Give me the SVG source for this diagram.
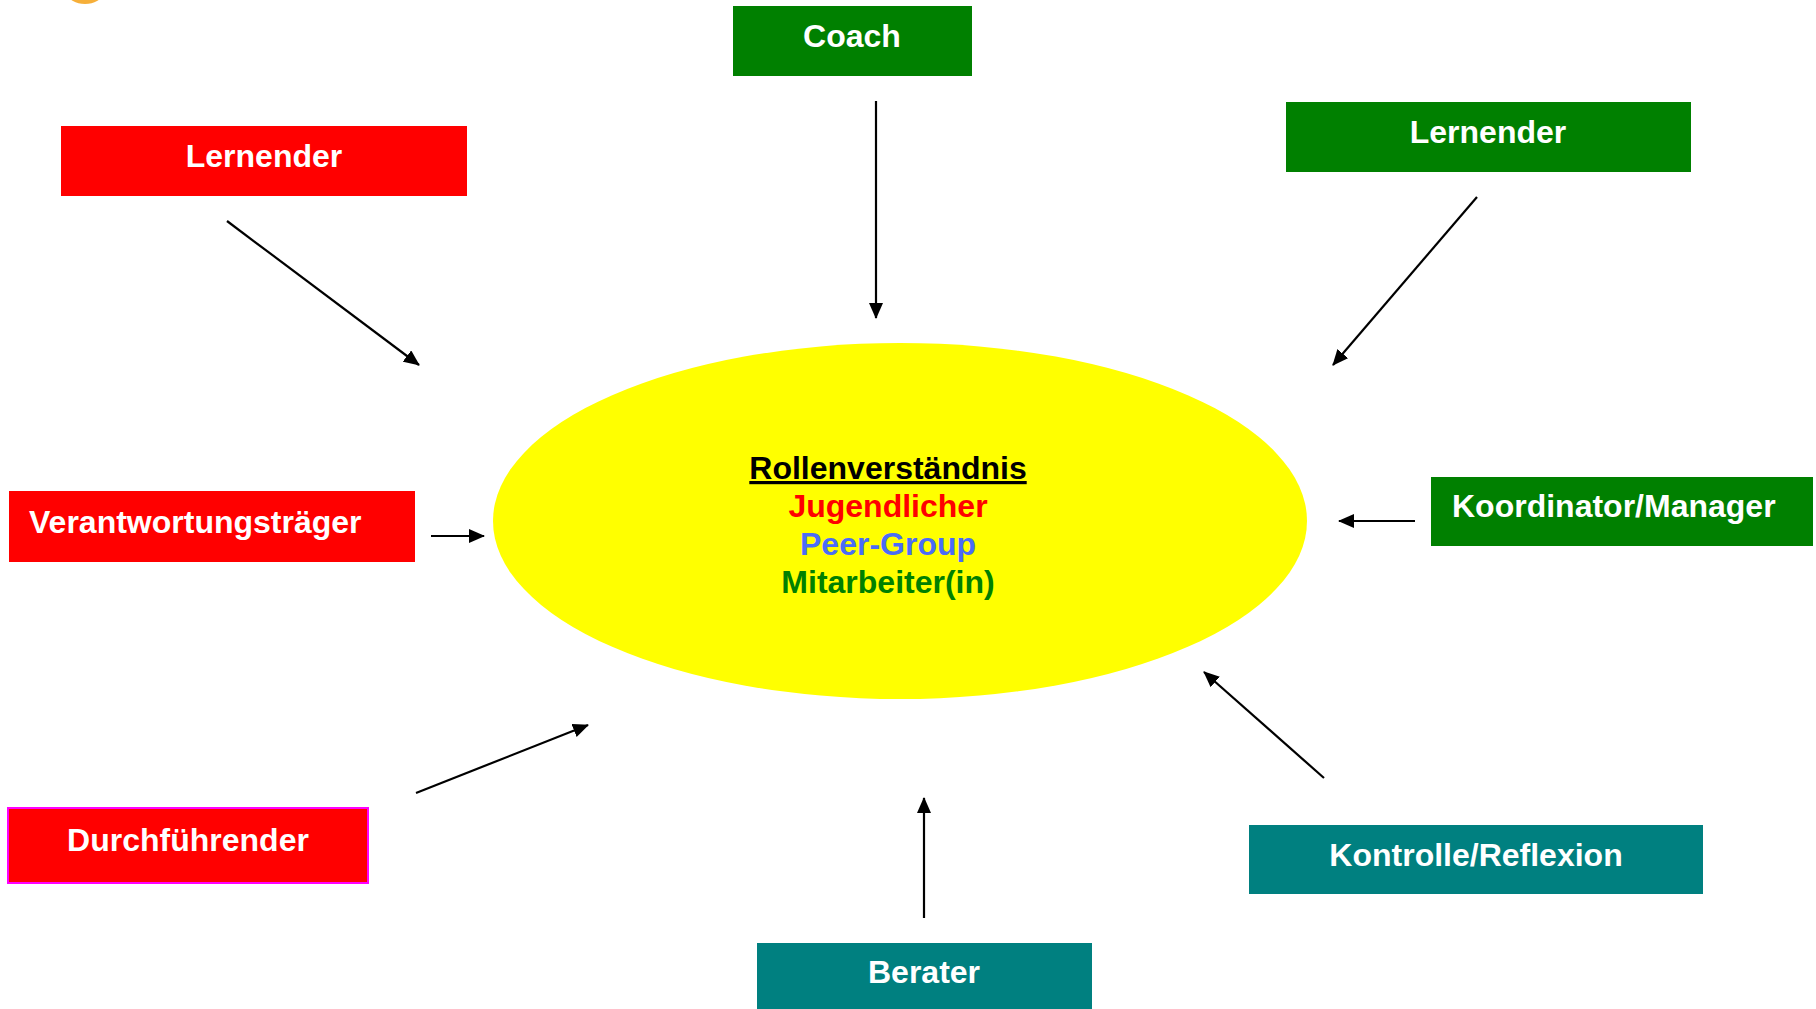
<svg xmlns="http://www.w3.org/2000/svg" width="1816" height="1009" viewBox="0 0 1816 1009">
<style>
.lbl{font-family:"Liberation Sans",Arial,sans-serif;font-weight:bold;font-size:32px;fill:#ffffff}
.c{text-anchor:middle}
.ctr{font-family:"Liberation Sans",Arial,sans-serif;font-weight:bold;font-size:32px;text-anchor:middle}
.conn line{stroke:#000;stroke-width:2.2}
</style>
<defs>
<marker id="ah" markerUnits="userSpaceOnUse" markerWidth="16" markerHeight="14" refX="15" refY="7" orient="auto">
<path d="M0,0 L16,7 L0,14 z" fill="#000"/>
</marker>
</defs>
<rect width="1816" height="1009" fill="#fff"/>
<ellipse cx="85" cy="-6" rx="17" ry="10" fill="#f5a623" opacity="0.9"/>
<g id="center">
<ellipse cx="900" cy="521" rx="407" ry="178" fill="#ffff00"/>
<text class="ctr" x="888" y="479" fill="#000" text-decoration="underline">Rollenverständnis</text>
<text class="ctr" x="888" y="517" fill="#ff0000">Jugendlicher</text>
<text class="ctr" x="888" y="555" fill="#4a6cf7">Peer-Group</text>
<text class="ctr" x="888" y="593" fill="#008000">Mitarbeiter(in)</text>
</g>
<g id="coach"><rect x="733" y="6" width="239" height="70" fill="#008000"/><text class="lbl c" x="852" y="47">Coach</text></g>
<g id="lernender-red"><rect x="61" y="126" width="406" height="70" fill="#ff0000"/><text class="lbl c" x="264" y="167">Lernender</text></g>
<g id="lernender-green"><rect x="1286" y="102" width="405" height="70" fill="#008000"/><text class="lbl c" x="1488" y="143">Lernender</text></g>
<g id="verantwortung"><rect x="9" y="491" width="406" height="71" fill="#ff0000"/><text class="lbl" x="29" y="533">Verantwortungsträger</text></g>
<g id="koordinator"><rect x="1431" y="477" width="382" height="69" fill="#008000"/><text class="lbl" x="1452" y="517">Koordinator/Manager</text></g>
<g id="durchfuehrender"><rect x="8" y="808" width="360" height="75" fill="#ff0000" stroke="#ff00ff" stroke-width="2"/><text class="lbl c" x="188" y="851">Durchführender</text></g>
<g id="kontrolle"><rect x="1249" y="825" width="454" height="69" fill="#008080"/><text class="lbl c" x="1476" y="866">Kontrolle/Reflexion</text></g>
<g id="berater"><rect x="757" y="943" width="335" height="70" fill="#008080"/><text class="lbl c" x="924" y="983">Berater</text></g>
<g id="connectors" class="conn">
<line x1="227" y1="221" x2="419" y2="365" marker-end="url(#ah)"/>
<line x1="876" y1="101" x2="876" y2="318" marker-end="url(#ah)"/>
<line x1="1477" y1="197" x2="1333" y2="365" marker-end="url(#ah)"/>
<line x1="431" y1="536" x2="484" y2="536" marker-end="url(#ah)"/>
<line x1="1415" y1="521" x2="1339" y2="521" marker-end="url(#ah)"/>
<line x1="416" y1="793" x2="588" y2="725" marker-end="url(#ah)"/>
<line x1="924" y1="918" x2="924" y2="798" marker-end="url(#ah)"/>
<line x1="1324" y1="778" x2="1204" y2="672" marker-end="url(#ah)"/>
</g>
</svg>
